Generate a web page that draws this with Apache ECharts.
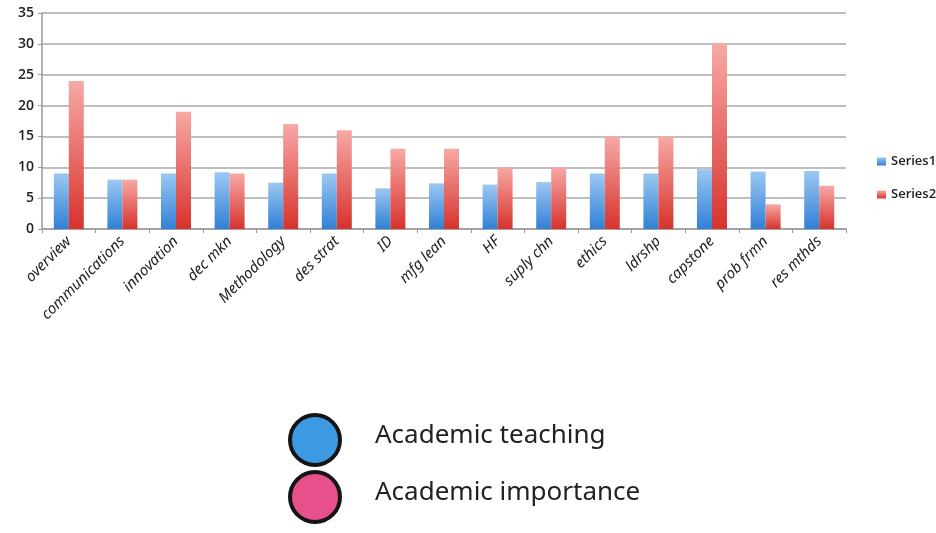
<!DOCTYPE html>
<html>
<head>
<meta charset="utf-8">
<script src="https://cdn.jsdelivr.net/npm/echarts@6/dist/echarts.min.js"></script>
<style>
html,body{margin:0;padding:0;background:#fff;}
#chart{width:936px;height:533px;}
</style>
</head>
<body>
<div id="chart"></div>
<script>
var categories = ['overview','communications','innovation','dec mkn','Methodology','des strat','ID','mfg lean','HF','suply chn','ethics','ldrshp','capstone','prob frmn','res mthds'];
var series1 = [9, 8, 9, 9.2, 7.5, 9, 6.6, 7.4, 7.2, 7.6, 9, 9, 9.7, 9.3, 9.4];
var series2 = [24, 8, 19, 9, 17, 16, 13, 13, 10, 10, 15, 15, 30, 4, 7];
var seriesNames = ['Series1', 'Series2'];
var yTicks = [0, 5, 10, 15, 20, 25, 30, 35];
var noteLabels = ['Academic teaching', 'Academic importance'];

var chart = echarts.init(document.getElementById('chart'), null, {renderer: 'canvas'});
var handFont = '"Noto Sans", sans-serif';

function grad(top, bottom) {
  return new echarts.graphic.LinearGradient(0, 0, 0, 1, [
    {offset: 0, color: top},
    {offset: 1, color: bottom}
  ]);
}

chart.setOption({
  backgroundColor: '#ffffff',
  animation: false,
  grid: {left: 42, right: 90, top: 13, bottom: 304, containLabel: false},
  legend: {
    orient: 'vertical',
    left: 872,
    top: 150,
    itemWidth: 9,
    itemHeight: 8,
    itemGap: 20,
    icon: 'rect',
    data: seriesNames,
    textStyle: {fontSize: 13, color: '#222', fontFamily: '"Open Sans", sans-serif', fontWeight: 600}
  },
  xAxis: {
    type: 'category',
    data: categories,
    boundaryGap: true,
    axisLine: {show: true, lineStyle: {color: '#9a9a9a', width: 1.5}},
    axisTick: {show: true, alignWithLabel: false, length: 4, lineStyle: {color: '#9a9a9a'}},
    axisLabel: {
      interval: 0,
      rotate: 45,
      margin: 10,
      fontSize: 15,
      fontStyle: 'italic',
      color: '#222',
      fontFamily: handFont
    }
  },
  yAxis: {
    type: 'value',
    min: yTicks[0],
    max: yTicks[yTicks.length - 1],
    interval: 5,
    axisLine: {show: true, lineStyle: {color: '#9a9a9a', width: 1.5}},
    axisTick: {show: true, length: 4, lineStyle: {color: '#9a9a9a'}},
    axisLabel: {fontSize: 14, color: '#222', margin: 8, fontFamily: '"Open Sans", sans-serif', fontWeight: 600},
    splitLine: {show: true, lineStyle: {color: '#a8a8a8', width: 1.5}}
  },
  series: [
    {
      name: seriesNames[0],
      type: 'bar',
      data: series1,
      barWidth: 15,
      barGap: '0%',
      itemStyle: {color: grad('#9cc8f2', '#3080d6')}
    },
    {
      name: seriesNames[1],
      type: 'bar',
      data: series2,
      barWidth: 15,
      barGap: '0%',
      itemStyle: {color: grad('#f7a9a6', '#d8322c')}
    }
  ],
  graphic: [
    {type: 'circle', shape: {cx: 315, cy: 440, r: 25}, style: {fill: '#3c9ae2', stroke: '#151515', lineWidth: 4}},
    {type: 'circle', shape: {cx: 315, cy: 497, r: 25}, style: {fill: '#e8508c', stroke: '#151515', lineWidth: 4}},
    {type: 'text', left: 375, top: 423, style: {text: noteLabels[0], fontSize: 26, fill: '#222', fontFamily: handFont}},
    {type: 'text', left: 375, top: 480, style: {text: noteLabels[1], fontSize: 26, fill: '#222', fontFamily: handFont}}
  ]
});
</script>
</body>
</html>
